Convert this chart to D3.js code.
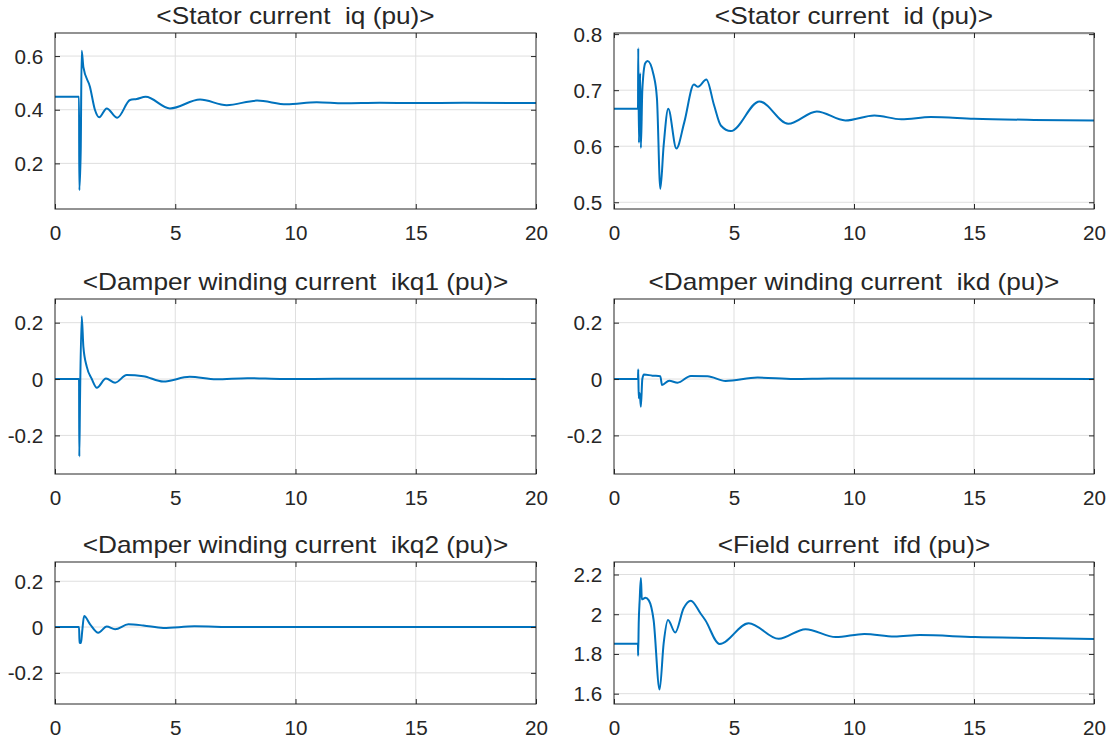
<!DOCTYPE html>
<html>
<head>
<meta charset="utf-8">
<script src="https://cdn.jsdelivr.net/npm/d3@7"></script>
<style>
  html, body { margin: 0; padding: 0; background: #ffffff; }
  svg { display: block; }
  text { font-family: "Liberation Sans", Arial, Helvetica, sans-serif; fill: #262626; white-space: pre; }
</style>
</head>
<body>
<svg id="chart" width="1114" height="746"></svg>
<script>
// ---------------- DATA ----------------
const xTicks = [0, 5, 10, 15, 20];

const titles = [
  "<Stator current  iq (pu)>",
  "<Stator current  id (pu)>",
  "<Damper winding current  ikq1 (pu)>",
  "<Damper winding current  ikd (pu)>",
  "<Damper winding current  ikq2 (pu)>",
  "<Field current  ifd (pu)>"
];

// Stator current iq
const iqT = [0, 1.0, 1.01, 1.07, 1.11, 1.18, 1.455, 1.66, 1.84, 2.15, 2.59, 3.12, 3.4, 3.77, 4.78, 6.03, 7.14, 8.4, 9.63, 10.88, 12.0, 13.5, 15, 17, 20];
const iqV = [0.448, 0.448, 0.10, 0.25, 0.62, 0.559, 0.485, 0.40, 0.372, 0.405, 0.370, 0.436, 0.44, 0.448, 0.405, 0.438, 0.417, 0.434, 0.420, 0.428, 0.424, 0.426, 0.425, 0.426, 0.425];
const iqTicks = [0.2, 0.4, 0.6];

// Stator current id
const idT = [0, 1.0, 1.01, 1.04, 1.09, 1.12, 1.18, 1.3, 1.4, 1.65, 1.79, 1.93, 2.07, 2.26, 2.6, 2.93, 3.33, 3.5, 3.85, 4.17, 4.45, 4.87, 6.06, 7.26, 8.45, 9.64, 10.85, 11.97, 13.2, 15, 17.5, 20];
const idV = [0.667, 0.667, 0.775, 0.606, 0.730, 0.597, 0.70, 0.748, 0.752, 0.727, 0.685, 0.524, 0.602, 0.667, 0.596, 0.643, 0.710, 0.706, 0.719, 0.673, 0.637, 0.627, 0.680, 0.640, 0.662, 0.646, 0.655, 0.648, 0.652, 0.649, 0.647, 0.646];
const idTicks = [0.5, 0.6, 0.7, 0.8];

// Damper winding current ikq1
const ikq1T = [0, 1.0, 1.01, 1.04, 1.11, 1.18, 1.32, 1.53, 1.74, 2.12, 2.5, 2.98, 3.67, 4.5, 5.6, 6.7, 8.0, 9.5, 12, 20];
const ikq1V = [0, 0, -0.275, -0.074, 0.223, 0.114, 0.044, 0.0, -0.031, 0.002, -0.013, 0.014, 0.010, -0.009, 0.008, -0.001, 0.003, 0.0, 0.001, 0];
const ikq1Ticks = [-0.2, 0, 0.2];

// Damper winding current ikd
const ikdT = [0, 1.0, 1.01, 1.03, 1.07, 1.12, 1.18, 1.25, 1.6, 1.93, 2.0, 2.3, 2.65, 3.2, 3.9, 4.65, 5.98, 7.5, 9, 20];
const ikdV = [0, 0, 0.034, -0.068, -0.05, -0.098, 0.0, 0.016, 0.012, 0.01, -0.021, -0.006, -0.013, 0.011, 0.010, -0.007, 0.005, 0.0, 0.002, 0];
const ikdTicks = [-0.2, 0, 0.2];

// Damper winding current ikq2
const ikq2T = [0, 1.0, 1.02, 1.08, 1.13, 1.21, 1.46, 1.8, 2.15, 2.5, 3.05, 3.67, 4.5, 5.8, 7.5, 20];
const ikq2V = [0, 0, -0.068, -0.07, -0.02, 0.048, 0.012, -0.025, 0.002, -0.01, 0.012, 0.007, -0.004, 0.003, 0, 0];
const ikq2Ticks = [-0.2, 0, 0.2];

// Field current ifd
const ifdT = [0, 1.0, 1.005, 1.03, 1.07, 1.12, 1.16, 1.31, 1.45, 1.65, 1.9, 2.07, 2.25, 2.55, 2.9, 3.2, 3.6, 3.8, 4.4, 5.61, 6.86, 7.98, 9.24, 10.43, 11.69, 12.74, 15.03, 17.5, 20];
const ifdV = [1.851, 1.851, 1.791, 1.955, 2.072, 2.183, 2.075, 2.083, 2.07, 1.971, 1.621, 1.855, 1.971, 1.908, 2.03, 2.068, 2.005, 1.971, 1.85, 1.955, 1.876, 1.925, 1.885, 1.901, 1.888, 1.895, 1.885, 1.88, 1.875];
const ifdTicks = [1.6, 1.8, 2, 2.2];

// axis limits
const yLimits = [
  [0.03, 0.686],
  [0.488, 0.802],
  [-0.337, 0.284],
  [-0.337, 0.284],
  [-0.336, 0.284],
  [1.548, 2.263]
];

// ---------------- LAYOUT ----------------
const cols = [[55, 536], [614, 1094]];
const rows = [[33, 209], [299, 474], [562, 704]];
const lineColor = "#0072BD";

const panels = [
  { t: iqT,   v: iqV,   ticks: iqTicks,   col: 0, row: 0 },
  { t: idT,   v: idV,   ticks: idTicks,   col: 1, row: 0 },
  { t: ikq1T, v: ikq1V, ticks: ikq1Ticks, col: 0, row: 1 },
  { t: ikdT,  v: ikdV,  ticks: ikdTicks,  col: 1, row: 1 },
  { t: ikq2T, v: ikq2V, ticks: ikq2Ticks, col: 0, row: 2 },
  { t: ifdT,  v: ifdV,  ticks: ifdTicks,  col: 1, row: 2 }
];

const svg = d3.select("#chart");
svg.append("rect").attr("width", 1114).attr("height", 746).attr("fill", "#ffffff");

panels.forEach((p, i) => {
  const [x0, x1] = cols[p.col];
  const [y0, y1] = rows[p.row];
  const x = d3.scaleLinear().domain([0, 20]).range([x0, x1]);
  const y = d3.scaleLinear().domain(yLimits[i]).range([y1, y0]);
  const g = svg.append("g");

  // grid
  g.append("g").selectAll("line").data(xTicks.slice(1, -1)).join("line")
    .attr("x1", d => x(d)).attr("x2", d => x(d))
    .attr("y1", y0).attr("y2", y1)
    .attr("stroke", "#dfdfdf").attr("stroke-width", 1);
  g.append("g").selectAll("line").data(p.ticks).join("line")
    .attr("x1", x0).attr("x2", x1)
    .attr("y1", d => y(d)).attr("y2", d => y(d))
    .attr("stroke", "#dfdfdf").attr("stroke-width", 1);

  // data line
  const pts = p.t.map((t, k) => [t, p.v[k]]);
  g.append("path").datum(pts)
    .attr("fill", "none")
    .attr("stroke", lineColor)
    .attr("stroke-width", 2)
    .attr("stroke-linejoin", "round")
    .attr("d", d3.line().x(d => x(d[0])).y(d => y(d[1])).curve(d3.curveMonotoneX));

  // axes (inward ticks on all sides)
  const fmt = d => String(d);
  const ax = [
    g.append("g").attr("transform", `translate(0,${y1})`)
      .call(d3.axisBottom(x).tickValues(xTicks).tickSizeInner(-5).tickSizeOuter(0).tickPadding(27).tickFormat(fmt)),
    g.append("g").attr("transform", `translate(${x0},0)`)
      .call(d3.axisLeft(y).tickValues(p.ticks).tickSizeInner(-5).tickSizeOuter(0).tickPadding(11).tickFormat(fmt)),
    g.append("g").attr("transform", `translate(0,${y0})`)
      .call(d3.axisTop(x).tickValues(xTicks).tickSizeInner(-5).tickSizeOuter(0).tickFormat("")),
    g.append("g").attr("transform", `translate(${x1},0)`)
      .call(d3.axisRight(y).tickValues(p.ticks).tickSizeInner(-5).tickSizeOuter(0).tickFormat(""))
  ];
  ax.forEach(a => {
    a.select(".domain").remove();
    a.selectAll(".tick line").attr("stroke", "#262626");
    a.selectAll("text").attr("font-size", 19.5).attr("fill", "#262626")
      .style("font-family", "'Liberation Sans', Arial, sans-serif");
  });
  ax[0].selectAll("text").attr("dy", null).attr("y", 31).attr("dominant-baseline", "auto")
    .attr("transform", "scale(1.06,1)");
  ax[1].selectAll("text").attr("dy", "0.36em").attr("transform", "scale(1.06,1)");

  // box
  g.append("rect")
    .attr("x", x0).attr("y", y0).attr("width", x1 - x0).attr("height", y1 - y0)
    .attr("fill", "none").attr("stroke", "#262626").attr("stroke-width", 1);

  // title
  svg.append("text")
    .attr("transform", `translate(${(x0 + x1) / 2},${y0 - 9.3}) scale(1.14,1)`)
    .attr("text-anchor", "middle")
    .attr("font-size", 23)
    .attr("fill", "#1a1a1a")
    .attr("xml:space", "preserve")
    .text(titles[i]);
});
</script>
</body>
</html>
